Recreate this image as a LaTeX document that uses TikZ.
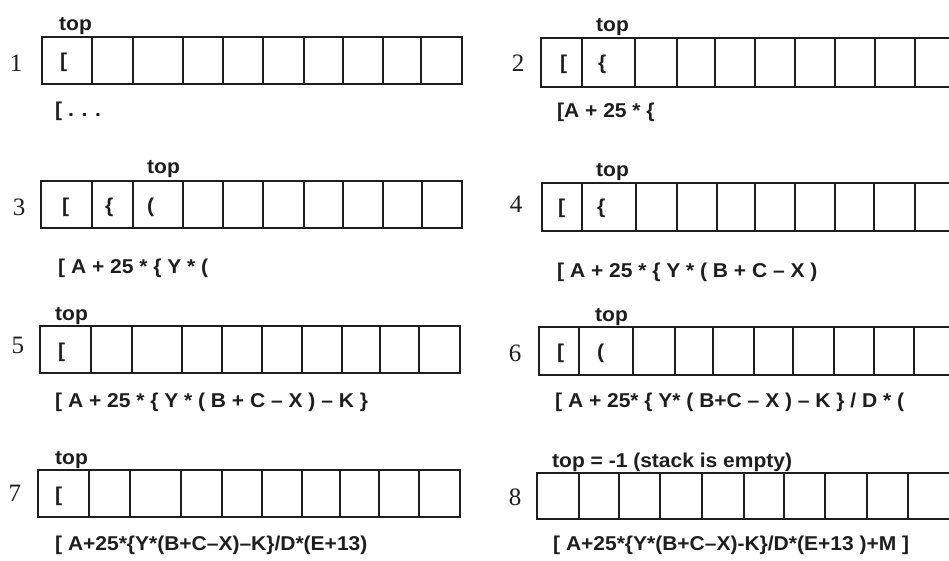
\documentclass[tikz,border=0pt]{standalone}
\usepackage{fontspec}
\setmainfont{Liberation Serif}
\setsansfont[FakeStretch=1.05]{Liberation Sans}
\definecolor{ink}{RGB}{30,30,30}
\usetikzlibrary{positioning}

\begin{document}
\begin{tikzpicture}[x=1pt,y=-1pt,
      cell/.style={draw=ink,line width=1.2pt},
      num/.style={font=\fontsize{25}{25}\selectfont,anchor=base,text=ink,inner sep=0pt},
      lbl/.style={font=\sffamily\bfseries\fontsize{20}{20}\selectfont,
                  anchor=base west,text=ink,inner sep=0pt}]
      \fill[white] (0,0) rectangle (949,561);
      \useasboundingbox (0,0) rectangle (949,561);
      % stack 1
      \draw[cell] (42,37) rectangle (462,84);
      \foreach \x in {92,133,183,223,263,304,343,383,421}
        \draw[cell] (\x,37) -- (\x,84);
      \node[num] (n1) at (16,72) {1};
      \node[lbl] (t1) at (59,31) {top};
      \node[lbl] (c11) at (60,68) {[};
      \node[lbl] (e1) at (55,117) {[ . . .};
      % stack 2
      \draw[cell] (541,38) rectangle (960,87);
      \foreach \x in {582,635,677,715,755,795,835,875,915}
        \draw[cell] (\x,38) -- (\x,87);
      \node[num] (n2) at (518,72) {2};
      \node[lbl] (t2) at (596,32) {top};
      \node[lbl] (c21) at (560,70) {[};
      \node[lbl] (c22) at (598,70) {\{};
      \node[lbl] (e2) at (557,118) {[A + 25 * \{};
      % stack 3
      \draw[cell] (41,181) rectangle (462,228);
      \foreach \x in {92,133,183,223,263,304,343,383,422}
        \draw[cell] (\x,181) -- (\x,228);
      \node[num] (n3) at (19,215) {3};
      \node[lbl] (t3) at (147,174) {top};
      \node[lbl] (c31) at (62,212) {[};
      \node[lbl] (c32) at (105,212) {\{};
      \node[lbl] (c33) at (147,212) {(};
      \node[lbl] (e3) at (58,273) {[ A + 25 * \{ Y * (};
      % stack 4
      \draw[cell] (542,183) rectangle (960,231);
      \foreach \x in {582,636,677,717,755,795,835,874,915}
        \draw[cell] (\x,183) -- (\x,231);
      \node[num] (n4) at (516,213) {4};
      \node[lbl] (t4) at (596,177) {top};
      \node[lbl] (c41) at (558,214) {[};
      \node[lbl] (c42) at (597,214) {\{};
      \node[lbl] (e4) at (557,277) {[ A + 25 * \{ Y * ( B + C -- X )};
      % stack 5
      \draw[cell] (40,326) rectangle (460,373);
      \foreach \x in {91,132,182,222,262,302,342,380,419}
        \draw[cell] (\x,326) -- (\x,373);
      \node[num] (n5) at (18,353) {5};
      \node[lbl] (t5) at (55,320) {top};
      \node[lbl] (c51) at (58,357) {[};
      \node[lbl] (e5) at (55,407) {[ A + 25 * \{ Y * ( B + C -- X ) -- K \}};
      % stack 6
      \draw[cell] (539,327) rectangle (960,375);
      \foreach \x in {579,633,675,713,754,793,834,874,914}
        \draw[cell] (\x,327) -- (\x,375);
      \node[num] (n6) at (515,361) {6};
      \node[lbl] (t6) at (595,321) {top};
      \node[lbl] (c61) at (557,358) {[};
      \node[lbl] (c62) at (597,358) {(};
      \node[lbl] (e6) at (555,407) {[ A + 25* \{ Y* ( B+C -- X ) -- K \} / D * (};
      % stack 7
      \draw[cell] (38,470) rectangle (460,517);
      \foreach \x in {89,130,181,222,262,302,340,379,419}
        \draw[cell] (\x,470) -- (\x,517);
      \node[num] (n7) at (15,501) {7};
      \node[lbl] (t7) at (55,464) {top};
      \node[lbl] (c71) at (55,501) {[};
      \node[lbl] (e7) at (55,550) {[ A+25*\{Y*(B+C--X)--K\}/D*(E+13)};
      % stack 8
      \draw[cell] (537,473) rectangle (960,519);
      \foreach \x in {579,619,660,702,744,784,825,867,908}
        \draw[cell] (\x,473) -- (\x,519);
      \node[num] (n8) at (515,505) {8};
      \node[lbl] (t8) at (552,467) {top = -1 (stack is empty)};
      \node[lbl] (e8) at (553,550) {[ A+25*\{Y*(B+C--X)-K\}/D*(E+13 )+M ]};
    \end{tikzpicture}
\end{document}
